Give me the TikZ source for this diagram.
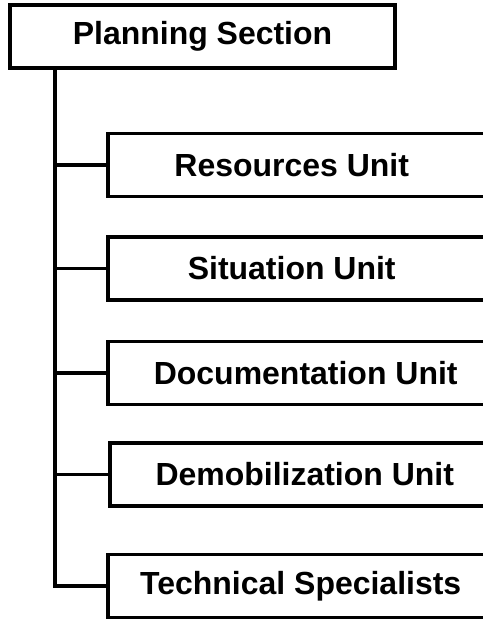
\documentclass[tikz,border=0pt]{standalone}
\usepackage{fontspec}
\setmainfont{Liberation Sans}

\begin{document}
\begin{tikzpicture}[x=0.02cm,y=-0.02cm,line width=2pt,
  box/.style={draw,rectangle,inner sep=0pt,minimum height=1.26cm,
    font=\fontsize{18.2}{22}\selectfont\bfseries},
  unit/.style={box,anchor=west,minimum width=8.2cm,
    execute at begin node={\hspace*{#1}}}]
\useasboundingbox (0,0) rectangle (483,619);
\clip (0,0) rectangle (483,619);
% ---------- section ----------
\node[box,minimum width=7.7cm] (ps) at (202.5,36.5) {Planning Section};
\coordinate (trunk) at (55,0);
% ---------- units (right ends run off the page) ----------
\node[unit=-0.84cm] (res)   at (106,165)   {Resources Unit};
\node[unit=-0.84cm] (sit)   at (106,268.5) {Situation Unit};
\node[unit=-0.28cm] (doc)   at (106,373)   {Documentation Unit};
\node[unit=-0.40cm] (demob) at (108,474.5) {Demobilization Unit};
\node[unit=-0.48cm] (tech)  at (106,586)   {Technical Specialists};
% trunk and branches
\draw (ps.south -| trunk) |- (tech.west);
\foreach \u in {res,sit,doc,demob}{
  \draw (\u.west -| trunk) -- (\u.west);
}
\end{tikzpicture}
\end{document}
